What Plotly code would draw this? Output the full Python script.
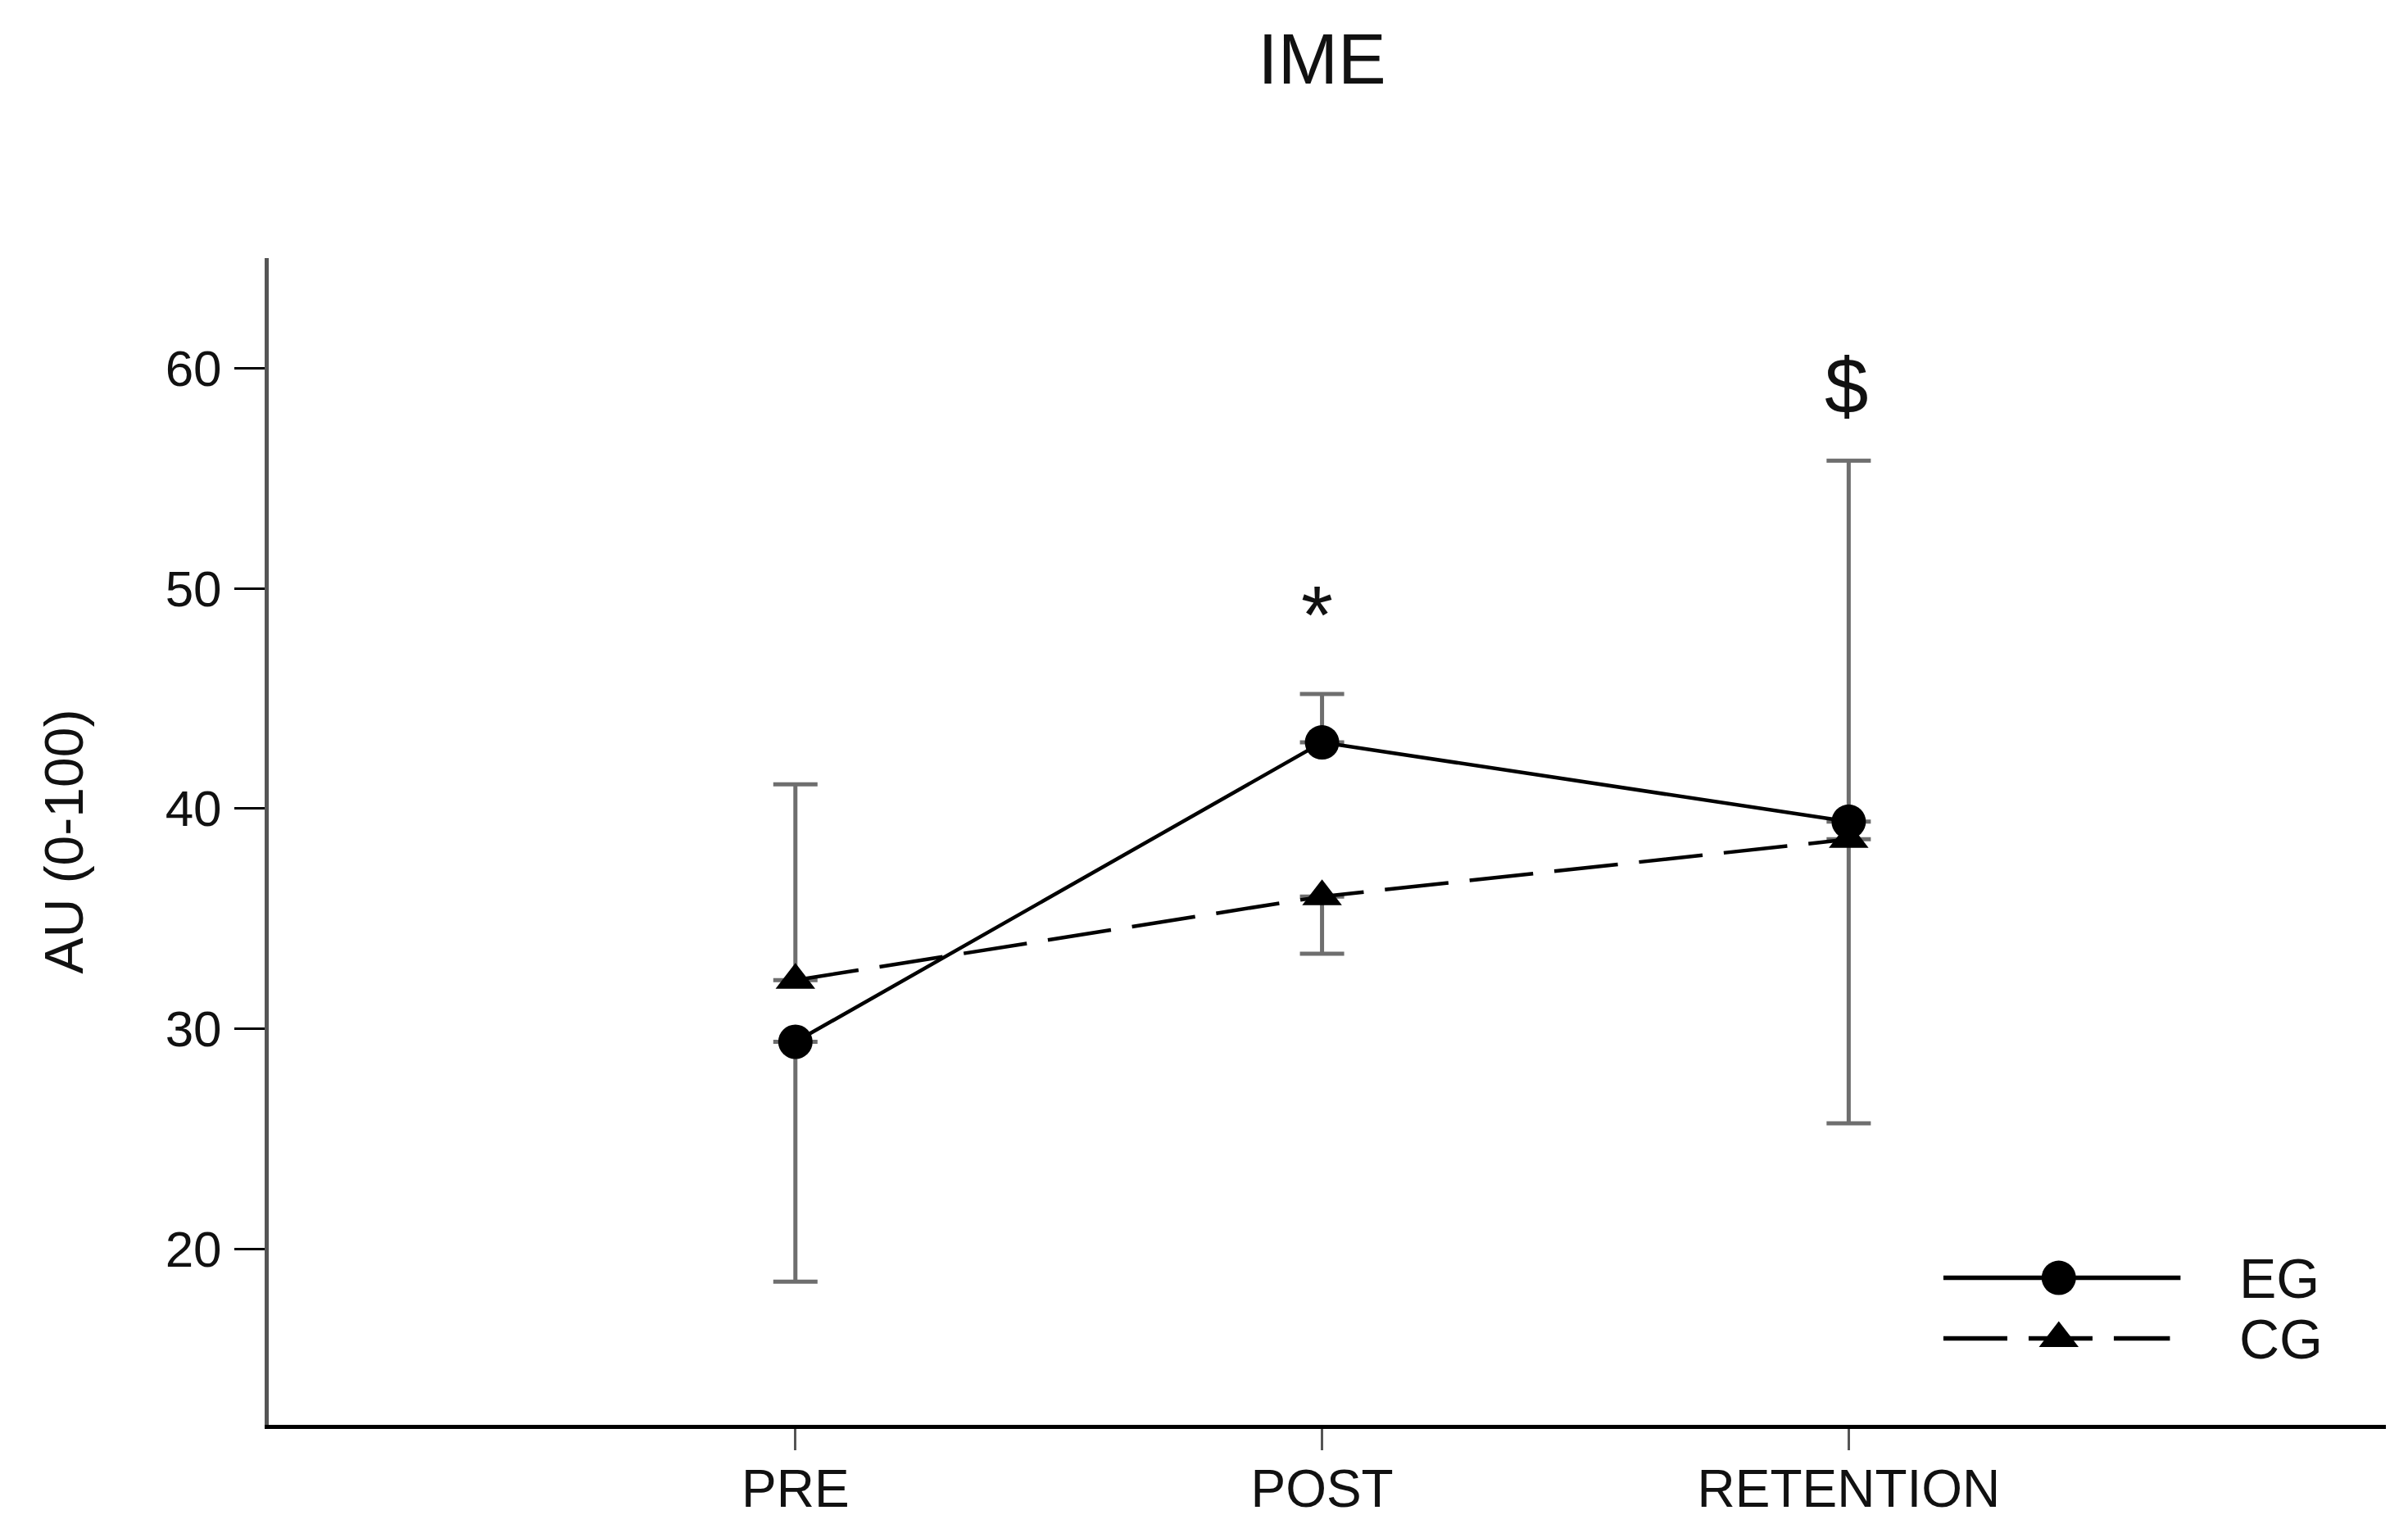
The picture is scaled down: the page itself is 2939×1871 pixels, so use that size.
import plotly.graph_objects as go

# ---- data ----
categories = ["PRE", "POST", "RETENTION"]
cat_pos = [0, 1, 2]

eg_mean = [29.4, 43.0, 39.4]
eg_err_plus = [0.0, 2.2, 16.4]
eg_err_minus = [10.9, 0.0, 0.0]

cg_mean = [32.2, 36.0, 38.6]
cg_err_plus = [8.9, 0.0, 0.0]
cg_err_minus = [0.0, 2.6, 12.9]

y_ticks = [20, 30, 40, 50, 60]

sig_labels = ["*", "$"]
sig_x = [0.99, 1.995]
sig_y = [48.8, 59.2]

FONT = "Liberation Sans, Arial, sans-serif"
ERR_COLOR = "#6e6e6e"
LINE_W = 4.5
DASH = "78px,26px"

fig = go.Figure()

fig.add_trace(go.Scatter(
    x=cat_pos, y=eg_mean, mode="lines+markers", name="EG",
    line=dict(color="black", width=LINE_W),
    marker=dict(symbol="circle", size=42, color="black"),
    error_y=dict(type="data", symmetric=False, array=eg_err_plus, arrayminus=eg_err_minus,
                 color=ERR_COLOR, thickness=5, width=27),
    showlegend=False,
))
fig.add_trace(go.Scatter(
    x=cat_pos, y=cg_mean, mode="lines+markers", name="CG",
    line=dict(color="black", width=LINE_W, dash=DASH),
    marker=dict(symbol="triangle-up", size=42, color="black"),
    error_y=dict(type="data", symmetric=False, array=cg_err_plus, arrayminus=cg_err_minus,
                 color=ERR_COLOR, thickness=5, width=27),
    showlegend=False,
))

# ---- legend key drawn in an overlay axis (0..1, like paper coordinates) ----
legend_items = [
    dict(name="EG", dash="solid", symbol="circle", size=42, y=0.126, x0=0.791, x1=0.903),
    dict(name="CG", dash=DASH, symbol="triangle-up", size=42, y=0.074, x0=0.791, x1=0.898),
]
for it in legend_items:
    fig.add_trace(go.Scatter(
        x=[it["x0"], it["x1"]], y=[it["y"]] * 2,
        xaxis="x2", yaxis="y2", mode="lines",
        line=dict(color="black", width=LINE_W + 1, dash=it["dash"]),
        showlegend=False, hoverinfo="skip",
    ))
    fig.add_trace(go.Scatter(
        x=[0.8455], y=[it["y"]],
        xaxis="x2", yaxis="y2", mode="markers",
        marker=dict(symbol=it["symbol"], size=it["size"], color="black",
                    line=dict(width=0)),
        showlegend=False, hoverinfo="skip",
    ))
    fig.add_annotation(
        x=0.930, y=it["y"], xref="x2", yref="y2", text=it["name"], showarrow=False,
        xanchor="left", yanchor="middle", font=dict(family=FONT, size=68, color="#111"),
    )

for lab, xx, yy in zip(sig_labels, sig_x, sig_y):
    fig.add_annotation(
        x=xx, y=yy, xref="x", yref="y", text=lab, showarrow=False,
        xanchor="center", yanchor="middle",
        font=dict(family=FONT, size=96 if lab == "$" else 100, color="#111"),
    )

fig.update_layout(
    width=2939, height=1871,
    paper_bgcolor="white", plot_bgcolor="white",
    margin=dict(l=328, r=27, t=315, b=132, autoexpand=False),
    font=dict(family=FONT, color="#111"),
    title=dict(text="IME", x=0.549, xanchor="center", y=0.962, yanchor="middle",
               font=dict(family=FONT, size=88, color="#111")),
    xaxis=dict(
        range=[-1, 3.02], tickvals=cat_pos, ticktext=categories,
        showgrid=False, zeroline=False, automargin=False,
        showline=True, linecolor="black", linewidth=5,
        ticks="outside", ticklen=26, tickwidth=3, tickcolor="#555",
        tickfont=dict(family=FONT, size=64, color="#111"),
        ticklabelstandoff=-8,
    ),
    yaxis=dict(
        range=[12, 65], tickvals=y_ticks,
        showgrid=False, zeroline=False, automargin=False,
        showline=True, linecolor="#555", linewidth=5,
        ticks="outside", ticklen=37, tickwidth=3, tickcolor="black",
        tickfont=dict(family=FONT, size=62, color="#111"),
        ticklabelstandoff=3,
        title=dict(text="AU (0-100)", standoff=80, font=dict(family=FONT, size=66, color="#111")),
    ),
    xaxis2=dict(range=[0, 1], overlaying="x", visible=False, fixedrange=True),
    yaxis2=dict(range=[0, 1], overlaying="y", visible=False, fixedrange=True),
)

fig.write_html(
    "out.html",
    config={"displayModeBar": False},
    post_script="document.body.style.margin='0px';document.body.style.overflow='hidden';",
)
